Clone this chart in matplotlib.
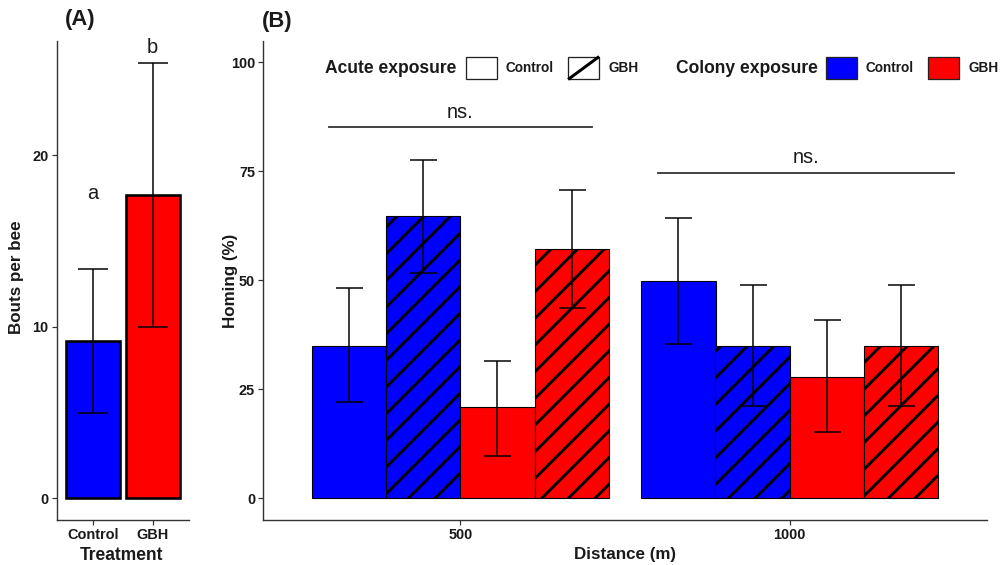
import matplotlib
matplotlib.use('Agg')
import matplotlib.pyplot as plt
from matplotlib.patches import Rectangle, Patch
from matplotlib.lines import Line2D
from matplotlib.legend_handler import HandlerBase
import numpy as np

DPI = 160
P = 72 / DPI  # points per pixel
W, H = 1000, 565

SANS = ['Liberation Sans', 'DejaVu Sans']

plt.rcParams['hatch.linewidth'] = 2.9 * P
plt.rcParams['hatch.color'] = 'black'

# ---------------- data ----------------
treatments = ['Control', 'GBH']
bouts_mean = [9.15, 17.7]
bouts_lo = [4.95, 10.0]
bouts_hi = [13.35, 25.4]
bouts_letters = ['a', 'b']
bouts_colors = ['#0000FF', '#FF0000']

distances = ['500', '1000']
colony_exposure = ['Control', 'Control', 'GBH', 'GBH']
acute_exposure = ['Control', 'GBH', 'Control', 'GBH']
homing_500 = [35.0, 64.8, 20.9, 57.1]
homing_500_lo = [22.0, 51.8, 9.6, 43.6]
homing_500_hi = [48.2, 77.6, 31.6, 70.8]
homing_1000 = [49.8, 35.0, 27.8, 35.0]
homing_1000_lo = [35.3, 21.1, 15.1, 21.1]
homing_1000_hi = [64.3, 49.0, 40.8, 49.0]

sig_labels = ['ns.', 'ns.']
sig_start = [0.6, 1.6]
sig_end = [1.4, 2.5]
sig_y = [85.1, 74.7]

colony_colors = {'Control': '#0000FF', 'GBH': '#FF0000'}
acute_hatch = {'Control': None, 'GBH': '//'}

# ---------------- figure ----------------
fig = plt.figure(figsize=(W / DPI, H / DPI), dpi=DPI)

def fx(px):
    return px / W

def fy(py):
    return 1 - py / H

AX_COL = '#333333'
TXT_COL = '#1a1a1a'

def style_axes(ax):
    for s in ['top', 'right']:
        ax.spines[s].set_visible(False)
    for s in ['left', 'bottom']:
        ax.spines[s].set_color(AX_COL)
        ax.spines[s].set_linewidth(1.4 * P)
    ax.tick_params(axis='both', length=5 * P, width=1.2 * P, color=AX_COL,
                   labelcolor=TXT_COL, pad=3 * P)
    for lab in ax.get_xticklabels() + ax.get_yticklabels():
        lab.set_fontfamily(SANS)
        lab.set_fontweight('bold')
        lab.set_fontsize(14.5 * P)

# ---- Panel A ----
axA = fig.add_axes([fx(56.7), fy(520), fx(188.7) - fx(56.7), fy(41) - fy(520)])
xa = np.arange(1, len(treatments) + 1)
axA.bar(xa, bouts_mean, width=0.9, color=bouts_colors, edgecolor='black', linewidth=2.6 * P, zorder=2)
axA.errorbar(xa, bouts_mean,
             yerr=[np.array(bouts_mean) - np.array(bouts_lo), np.array(bouts_hi) - np.array(bouts_mean)],
             fmt='none', ecolor='black', elinewidth=1.5 * P, capsize=15 * P, capthick=1.5 * P, zorder=3)
for xi, yv, lt in zip(xa, [17.8, 26.3], bouts_letters):
    axA.text(xi, yv, lt, ha='center', va='center', fontsize=20 * P, family=SANS, color=TXT_COL)
axA.set_xlim(0.4, 2.6)
axA.set_ylim(-1.27, 26.67)
axA.set_xticks(xa)
axA.set_xticklabels(treatments)
axA.set_yticks([0, 10, 20])
style_axes(axA)

# ---- Panel B ----
axB = fig.add_axes([fx(263), fy(520), fx(987) - fx(263), fy(40.7) - fy(520)])
xb = np.arange(1, len(distances) + 1)
bw = 0.225
offsets = (np.arange(4) - 1.5) * bw
means = [homing_500, homing_1000]
los = [homing_500_lo, homing_1000_lo]
his = [homing_500_hi, homing_1000_hi]
for gi in range(len(distances)):
    for k in range(4):
        xpos = xb[gi] + offsets[k]
        axB.bar(xpos, means[gi][k], width=bw, color=colony_colors[colony_exposure[k]],
                edgecolor='black', linewidth=1.1 * P, hatch=acute_hatch[acute_exposure[k]], zorder=2)
        axB.errorbar(xpos, means[gi][k],
                     yerr=[[means[gi][k] - los[gi][k]], [his[gi][k] - means[gi][k]]],
                     fmt='none', ecolor='black', elinewidth=1.5 * P, capsize=13.5 * P,
                     capthick=1.5 * P, zorder=3)
for s0, s1, sy, sl in zip(sig_start, sig_end, sig_y, sig_labels):
    axB.plot([s0, s1], [sy, sy], color='#333333', lw=1.8 * P, zorder=3)
    axB.text((s0 + s1) / 2, sy + 1.3, sl, ha='center', va='bottom', fontsize=20 * P,
             family=SANS, color=TXT_COL)
axB.set_xlim(0.4, 2.6)
axB.set_ylim(-5, 105)
axB.set_xticks(xb)
axB.set_xticklabels(distances)
axB.set_yticks([0, 25, 50, 75, 100])
style_axes(axB)

# ---- axis titles and panel labels ----
fig.text(fx(17), fy(277), 'Bouts per bee', rotation=90, ha='center', va='center',
         fontsize=17 * P, family=SANS, fontweight='bold', color=TXT_COL)
fig.text(fx(122), fy(556), 'Treatment', ha='center', va='center',
         fontsize=17.5 * P, family=SANS, fontweight='bold', color=TXT_COL)
fig.text(fx(230), fy(281), 'Homing (%)', rotation=90, ha='center', va='center',
         fontsize=17 * P, family=SANS, fontweight='bold', color=TXT_COL)
fig.text(fx(625), fy(555), 'Distance (m)', ha='center', va='center',
         fontsize=17 * P, family=SANS, fontweight='bold', color=TXT_COL)
fig.text(fx(80), fy(20), '(A)', ha='center', va='center', fontsize=22 * P,
         family=SANS, fontweight='bold', color=TXT_COL)
fig.text(fx(277), fy(21), '(B)', ha='center', va='center', fontsize=22 * P,
         family=SANS, fontweight='bold', color=TXT_COL)

# ---- legends ----
class HandlerDiag(HandlerBase):
    def create_artists(self, legend, orig_handle, xdescent, ydescent, width, height, fontsize, trans):
        r = Rectangle((-xdescent, -ydescent), width, height, facecolor='white',
                      edgecolor='#222222', lw=1.3 * P, transform=trans)
        l = Line2D([-xdescent, -xdescent + width], [-ydescent, -ydescent + height],
                   color='black', lw=3 * P, solid_capstyle='butt', transform=trans)
        return [r, l]

LFS = 13.6
leg_kw = dict(loc='center left', frameon=False, ncol=2, borderpad=0, borderaxespad=0,
              handlelength=31 / LFS, handleheight=30 / LFS, handletextpad=9 / LFS,
              columnspacing=14 / LFS, bbox_transform=fig.transFigure,
              prop={'family': SANS, 'weight': 'bold', 'size': LFS * P})

h_ctrl = Patch(facecolor='white', edgecolor='#222222', linewidth=1.3 * P, label='Control')
h_gbh = Patch(facecolor='white', edgecolor='#222222', label='GBH')
leg1 = fig.legend(handles=[h_ctrl, h_gbh], labels=acute_exposure[:2], bbox_to_anchor=(fx(466), fy(68)),
                  handler_map={h_gbh: HandlerDiag()}, **leg_kw)
for t in leg1.get_texts():
    t.set_color(TXT_COL)
h_blue = Patch(facecolor=colony_colors['Control'], edgecolor='#222222', linewidth=1.3 * P)
h_red = Patch(facecolor=colony_colors['GBH'], edgecolor='#222222', linewidth=1.3 * P)
leg2 = fig.legend(handles=[h_blue, h_red], labels=['Control', 'GBH'], bbox_to_anchor=(fx(826), fy(68)),
                  **leg_kw)
for t in leg2.get_texts():
    t.set_color(TXT_COL)
fig.text(fx(325), fy(68), 'Acute exposure', ha='left', va='center', fontsize=17.5 * P,
         family=SANS, fontweight='bold', color=TXT_COL)
fig.text(fx(676), fy(68), 'Colony exposure', ha='left', va='center', fontsize=17.5 * P,
         family=SANS, fontweight='bold', color=TXT_COL)

fig.savefig('out.png', dpi=DPI, facecolor='white')
